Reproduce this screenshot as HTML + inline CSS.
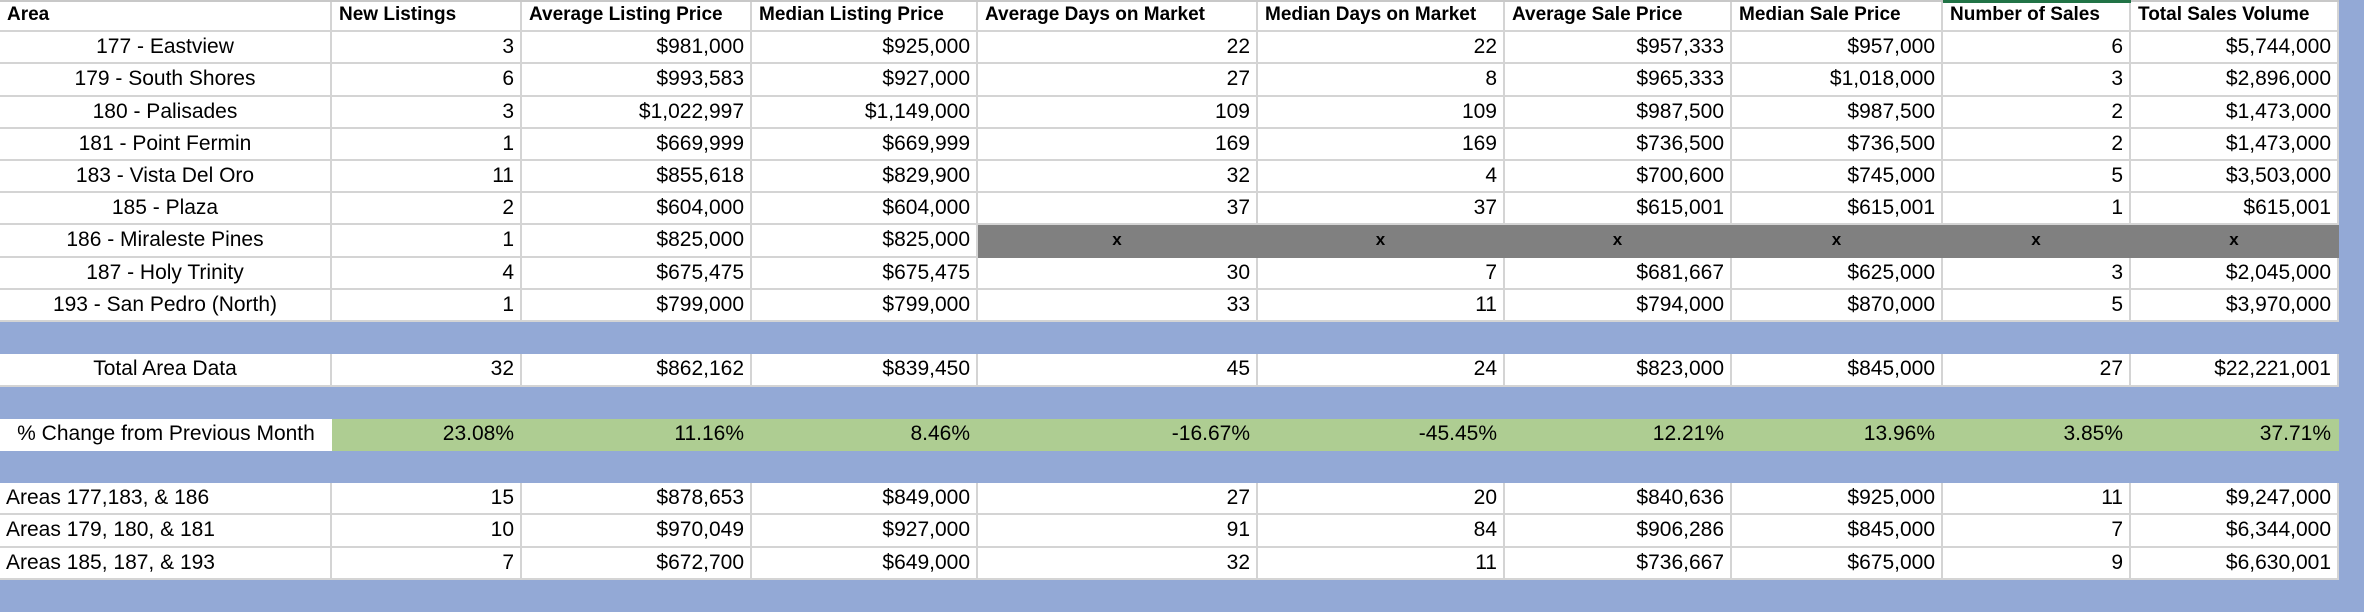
<!DOCTYPE html>
<html><head><meta charset="utf-8"><style>
html,body{margin:0;padding:0;background:#fff;}
#sheet{position:relative;width:2364px;height:612px;overflow:hidden;background:#fff;font-family:"Liberation Sans",sans-serif;color:#000;}
.c{position:absolute;box-sizing:border-box;border-right:2px solid #d4d4d4;border-bottom:2px solid #d4d4d4;font-size:21px;line-height:30px;white-space:nowrap;overflow:hidden;padding:0 6px;}
.h{font-weight:bold;font-size:19px;text-align:left;padding-left:7px;}
.r{text-align:right;}
.m{text-align:center;}
.l{text-align:left;padding-left:6px;}
.band{position:absolute;left:0;width:2364px;background:#93a9d6;}
</style></head><body>
<div id="sheet"></div>
<script>
const headers=["Area","New Listings","Average Listing Price","Median Listing Price","Average Days on Market","Median Days on Market","Average Sale Price","Median Sale Price","Number of Sales","Total Sales Volume"];
const areaRows=[
["177 - Eastview","3","$981,000","$925,000","22","22","$957,333","$957,000","6","$5,744,000"],
["179 - South Shores","6","$993,583","$927,000","27","8","$965,333","$1,018,000","3","$2,896,000"],
["180 - Palisades","3","$1,022,997","$1,149,000","109","109","$987,500","$987,500","2","$1,473,000"],
["181 - Point Fermin","1","$669,999","$669,999","169","169","$736,500","$736,500","2","$1,473,000"],
["183 - Vista Del Oro","11","$855,618","$829,900","32","4","$700,600","$745,000","5","$3,503,000"],
["185 - Plaza","2","$604,000","$604,000","37","37","$615,001","$615,001","1","$615,001"],
["186 - Miraleste Pines","1","$825,000","$825,000","x","x","x","x","x","x"],
["187 - Holy Trinity","4","$675,475","$675,475","30","7","$681,667","$625,000","3","$2,045,000"],
["193 - San Pedro (North)","1","$799,000","$799,000","33","11","$794,000","$870,000","5","$3,970,000"]];
const totalRow=["Total Area Data","32","$862,162","$839,450","45","24","$823,000","$845,000","27","$22,221,001"];
const pctRow=["% Change from Previous Month","23.08%","11.16%","8.46%","-16.67%","-45.45%","12.21%","13.96%","3.85%","37.71%"];
const groupRows=[
["Areas 177,183, & 186","15","$878,653","$849,000","27","20","$840,636","$925,000","11","$9,247,000"],
["Areas 179, 180, & 181","10","$970,049","$927,000","91","84","$906,286","$845,000","7","$6,344,000"],
["Areas 185, 187, & 193","7","$672,700","$649,000","32","11","$736,667","$675,000","9","$6,630,001"]];
const colX=[0,332,522,752,978,1258,1505,1732,1943,2131,2339];
const RH=612/19;
const sheet=document.getElementById('sheet');
function rowY(i){return Math.round(i*RH);}
function cell(row,col,text,cls,name,bg){
  const d=document.createElement('div');
  d.className='c '+cls;
  
  
  d.style.left=colX[col]+'px';d.style.top=rowY(row)+'px';
  d.style.width=(colX[col+1]-colX[col])+'px';d.style.height=(rowY(row+1)-rowY(row))+'px';
  if(bg){d.style.background=bg;d.style.borderRightColor=bg;}
  d.textContent=text;sheet.appendChild(d);return d;
}
function band(row){
  const b=document.createElement('div');b.className='band';
  
  
  b.style.top=rowY(row)+'px';b.style.height=(rowY(row+1)-rowY(row))+'px';sheet.appendChild(b);
}
headers.forEach((h,j)=>{cell(0,j,h,'h','header-'+j,null);});
areaRows.forEach((r,i)=>{r.forEach((v,j)=>{
  if(v==='x'){const d=cell(1+i,j,v,'m','na-cell','#808080');d.style.fontWeight='bold';d.style.fontSize='17px';d.style.borderBottomColor='#808080';}
  else cell(1+i,j,v,j===0?'m':'r',j===0?'area-name':'area-value',null);
});});
band(10);
totalRow.forEach((v,j)=>cell(11,j,v,j===0?'m':'r',j===0?'total-label':'total-value',null));
band(12);
pctRow.forEach((v,j)=>{const d=cell(13,j,v,j===0?'m':'r',j===0?'pct-label':'pct-value',j===0?null:'#aecd92');if(j===0)d.style.borderRight='none';d.style.borderBottom='none';});
band(14);
groupRows.forEach((r,i)=>r.forEach((v,j)=>cell(15+i,j,v,j===0?'l':'r',j===0?'group-label':'group-value',null)));
band(18);
const rightStrip=document.createElement('div');


rightStrip.style.cssText='position:absolute;left:2339px;top:0;width:25px;height:612px;background:#93a9d6;';
sheet.appendChild(rightStrip);
const topBorder=document.createElement('div');


topBorder.style.cssText='position:absolute;left:0;top:0;width:2339px;height:2px;background:#c8c8c8;';
sheet.appendChild(topBorder);
const selMarker=document.createElement('div');


selMarker.style.cssText='position:absolute;left:1943px;top:0;width:188px;height:3px;background:#217346;';
sheet.appendChild(selMarker);
</script>
</body></html>
